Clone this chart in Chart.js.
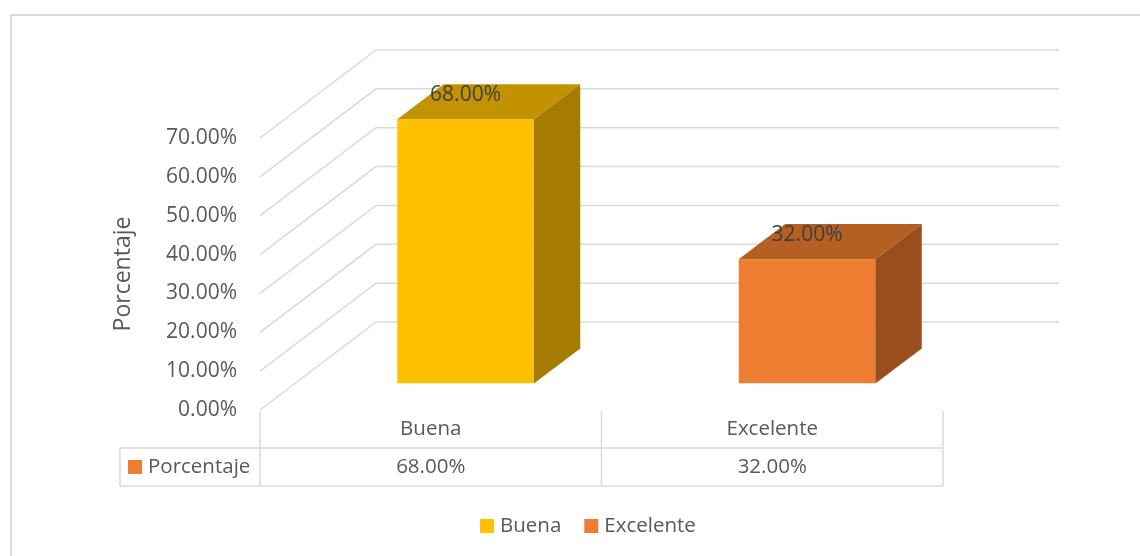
<!DOCTYPE html>
<html lang="es">
<head>
<meta charset="UTF-8">
<title>Porcentaje</title>
<script src="https://cdn.jsdelivr.net/npm/chart.js"></script>
<style>
  html, body { margin: 0; background: #fff; }
  #wrap { width: 1140px; height: 556px; }
</style>
</head>
<body>
<div id="wrap"><canvas id="chart" width="1140" height="556"></canvas></div>
<script>
// data
const categories = ['Buena', 'Excelente'];
const porcentaje = [0.68, 0.32];
const seriesName = 'Porcentaje';
const yMax = 0.7;
const yStep = 0.1;

// look
const FONT = "'Open Sans', 'Liberation Sans', sans-serif";
const TEXT = '#595959';
const GRID = '#d9d9d9';
const frontColors = ['#FFC000', '#ED7D31'];
const topColors = ['#C39200', '#B55F23'];
const sideColors = ['#A67C00', '#9A4E1D'];
const depth = { x: 116, y: -88 };   // floor depth vector
const gapPart = 0.3, barPart = 0.4; // bars sit in middle of the depth

const pct = v => (v * 100).toFixed(2) + '%';

function line(ctx, pts) {
  ctx.beginPath();
  ctx.moveTo(pts[0][0], pts[0][1]);
  for (let i = 1; i < pts.length; i++) ctx.lineTo(pts[i][0], pts[i][1]);
  ctx.stroke();
}
function poly(ctx, pts, color) {
  ctx.beginPath();
  ctx.moveTo(pts[0][0], pts[0][1]);
  for (let i = 1; i < pts.length; i++) ctx.lineTo(pts[i][0], pts[i][1]);
  ctx.closePath();
  ctx.fillStyle = color;
  ctx.fill();
}

const threeD = {
  id: 'threeD',
  beforeDraw(chart) {
    const ctx = chart.ctx;
    ctx.save();
    ctx.fillStyle = '#fff';
    ctx.fillRect(0, 0, chart.width, chart.height);
    // outer chart border
    ctx.strokeStyle = GRID;
    ctx.lineWidth = 2;
    line(ctx, [[11, chart.height + 5], [11, 15], [chart.width + 5, 15]]);
    ctx.restore();
  },
  beforeDatasetsDraw(chart) {
    const ctx = chart.ctx, a = chart.chartArea, ys = chart.scales.y;
    ctx.save();
    ctx.strokeStyle = GRID;
    ctx.lineWidth = 1.5;
    ys.ticks.forEach(t => {
      const y = ys.getPixelForValue(t.value);
      line(ctx, [[a.left, y], [a.left + depth.x, y + depth.y], [a.right + depth.x, y + depth.y]]);
    });
    ctx.restore();
    // front faces drawn by Chart.js, pushed into the depth
    ctx.save();
    ctx.translate(depth.x * gapPart, depth.y * gapPart);
  },
  afterDatasetsDraw(chart) {
    const ctx = chart.ctx;
    ctx.restore();
    const ox = depth.x * gapPart, oy = depth.y * gapPart;
    const bx = depth.x * barPart, by = depth.y * barPart;
    ctx.save();
    chart.getDatasetMeta(0).data.forEach((bar, i) => {
      const L = bar.x - bar.width / 2 + ox, R = bar.x + bar.width / 2 + ox;
      const T = bar.y + oy, B = bar.base + oy;
      poly(ctx, [[L, T], [R, T], [R + bx, T + by], [L + bx, T + by]], topColors[i]);
      poly(ctx, [[R, T], [R + bx, T + by], [R + bx, B + by], [R, B]], sideColors[i]);
      ctx.fillStyle = '#404040';
      ctx.font = '21px ' + FONT;
      ctx.textAlign = 'center';
      ctx.textBaseline = 'middle';
      ctx.fillText(pct(porcentaje[i]), bar.x + ox, T - 24);
    });
    ctx.restore();
  },
  afterDraw(chart) {
    const ctx = chart.ctx, a = chart.chartArea, xs = chart.scales.x;
    const n = categories.length;
    const edges = [a.left];
    for (let i = 0; i < n - 1; i++) edges.push((xs.getPixelForValue(i) + xs.getPixelForValue(i + 1)) / 2);
    edges.push(a.right);
    const top = a.bottom + 1, mid = a.bottom + 38, bot = a.bottom + 76, tableLeft = 120;
    ctx.save();
    ctx.strokeStyle = GRID;
    ctx.lineWidth = 1.5;
    edges.forEach(x => line(ctx, [[x, top], [x, bot]]));
    line(ctx, [[tableLeft, mid], [a.right, mid]]);
    line(ctx, [[tableLeft, bot], [a.right, bot]]);
    line(ctx, [[tableLeft, mid], [tableLeft, bot]]);
    ctx.font = '20.5px ' + FONT;
    ctx.fillStyle = TEXT;
    ctx.textBaseline = 'middle';
    ctx.textAlign = 'center';
    categories.forEach((c, i) => {
      const cx = xs.getPixelForValue(i);
      ctx.fillText(c, cx, (top + mid) / 2);
      ctx.fillText(pct(porcentaje[i]), cx, (mid + bot) / 2);
    });
    // series key in table
    ctx.fillStyle = frontColors[1];
    ctx.fillRect(tableLeft + 8, (mid + bot) / 2 - 7, 14, 14);
    ctx.fillStyle = TEXT;
    ctx.textAlign = 'left';
    ctx.fillText(seriesName, tableLeft + 28, (mid + bot) / 2);
    // legend
    let lx = 480;
    const ly = 526;
    categories.forEach((c, i) => {
      ctx.fillStyle = frontColors[i];
      ctx.fillRect(lx, ly - 7, 14, 14);
      ctx.fillStyle = TEXT;
      ctx.fillText(c, lx + 20, ly);
      lx += 20 + ctx.measureText(c).width + 23;
    });
    ctx.restore();
  }
};

new Chart(document.getElementById('chart'), {
  type: 'bar',
  data: {
    labels: categories,
    datasets: [{
      label: seriesName,
      data: porcentaje,
      backgroundColor: frontColors,
      barPercentage: 0.4,
      categoryPercentage: 1
    }]
  },
  options: {
    responsive: false,
    animation: false,
    layout: { padding: { left: 10, right: 197, top: 138, bottom: 146 } },
    plugins: { legend: { display: false }, tooltip: { enabled: false } },
    scales: {
      x: { display: false, offset: true },
      y: {
        min: 0,
        max: yMax,
        afterFit(s) { s.width = 250; },
        ticks: {
          stepSize: yStep,
          padding: 23,
          color: TEXT,
          font: { family: FONT, size: 21 },
          callback: v => pct(v)
        },
        grid: { display: false, drawTicks: false },
        border: { display: false },
        title: {
          display: true,
          text: seriesName,
          color: TEXT,
          font: { family: FONT, size: 23 },
          padding: { top: 100, bottom: 0 }
        }
      }
    }
  },
  plugins: [threeD]
});
</script>
</body>
</html>
